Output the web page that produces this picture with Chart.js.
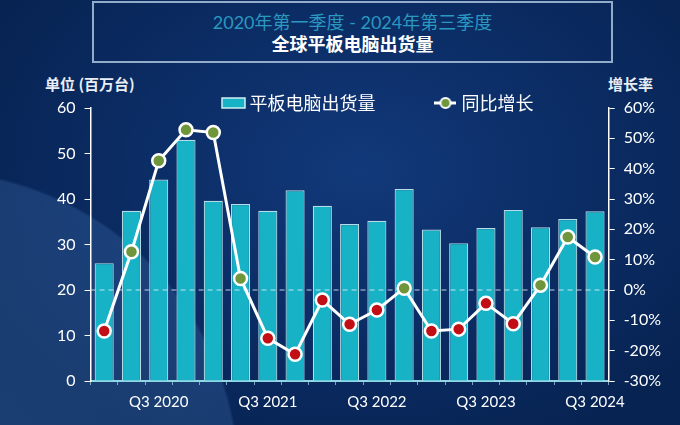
<!DOCTYPE html>
<html>
<head>
<meta charset="utf-8">
<script src="https://cdn.jsdelivr.net/npm/chart.js@4.4.1/dist/chart.umd.min.js"></script>
<style>
html, body { margin: 0; padding: 0; }
body {
    width: 680px; height: 425px; overflow: hidden; position: relative;
    font-family: Lato, "Noto Sans CJK SC", sans-serif;
    background:
        radial-gradient(circle 310px at -70px 480px, rgba(70,120,185,0.32) 0, rgba(70,120,185,0.28) 99%, rgba(0,0,0,0) 100%),
        radial-gradient(ellipse 420px 300px at 360px 170px, #12397a 0%, #0b2c64 55%, #072352 100%);
}
#box {
    position: absolute; left: 92px; top: 1px; width: 517px; height: 58px;
    border: 2px solid rgba(170,195,220,0.85);
    text-align: center;
}
#t1 { position: absolute; left: 0; right: 0; top: 8px; font-size: 18px; color: #2a98bf; line-height: 22px; }
#t2 { position: absolute; left: 0; right: 0; top: 30px; font-size: 18px; color: #fff; font-weight: bold; line-height: 22px; }
.unit { position: absolute; top: 73px; font-size: 15px; color: #e8eef6; font-weight: bold; font-family: "Noto Sans CJK SC", sans-serif; }
#wrap { position: absolute; left: 0; top: 0; width: 680px; height: 425px; }
</style>
</head>
<body>
<div id="box">
    <div id="t1">2020年第一季度 - 2024年第三季度</div>
    <div id="t2">全球平板电脑出货量</div>
</div>
<div class="unit" style="left:45px">单位 (百万台)</div>
<div class="unit" style="left:608px">增长率</div>
<div id="wrap"><canvas id="myChart" width="680" height="425"></canvas></div>

<script>
var quarters = [
    'Q1 2020', 'Q2 2020', 'Q3 2020', 'Q4 2020',
    'Q1 2021', 'Q2 2021', 'Q3 2021', 'Q4 2021',
    'Q1 2022', 'Q2 2022', 'Q3 2022', 'Q4 2022',
    'Q1 2023', 'Q2 2023', 'Q3 2023', 'Q4 2023',
    'Q1 2024', 'Q2 2024', 'Q3 2024'
];
// shipments, millions of units
var shipments = [25.9, 37.4, 44.3, 53.0, 39.6, 38.9, 37.4, 41.9, 38.5, 34.5,
                 35.2, 42.2, 33.3, 30.3, 33.6, 37.6, 33.8, 35.6, 37.3];
// year-on-year growth, %
var growth = [-13.5, 12.6, 42.6, 52.8, 51.9, 3.8, -15.9, -21.2, -3.3, -11.3,
              -6.6, 0.6, -13.5, -12.9, -4.4, -11.1, 1.6, 17.5, 10.9];
var leftTicks = [0, 60, 10];
var rightTicks = [-30, 60, 10];

var tickFont = { family: "Lato, 'Noto Sans CJK SC', sans-serif", size: 16 };

function barIcon() {
    var c = document.createElement('canvas');
    c.width = 25; c.height = 12;
    var g = c.getContext('2d');
    g.fillStyle = '#18b2c6';
    g.fillRect(1, 1, 23, 10);
    g.strokeStyle = '#cdeff4';
    g.lineWidth = 1.5;
    g.strokeRect(1, 1, 23, 10);
    return c;
}

function lineIcon() {
    var c = document.createElement('canvas');
    c.width = 22; c.height = 14;
    var g = c.getContext('2d');
    g.strokeStyle = '#fff';
    g.lineWidth = 3;
    g.beginPath(); g.moveTo(0, 7); g.lineTo(22, 7); g.stroke();
    g.beginPath(); g.arc(11, 7, 5, 0, Math.PI * 2);
    g.fillStyle = '#6f963a'; g.fill();
    g.lineWidth = 2; g.stroke();
    return c;
}

var icons = [barIcon(), lineIcon()];

// dashed 0% line, drawn over the bars but under the line series
var zeroLine = {
    id: 'zeroLine',
    afterDatasetDraw: function (chart, args) {
        if (args.index !== 0) return;
        var y = chart.scales.y1.getPixelForValue(0);
        var a = chart.chartArea;
        var ctx = chart.ctx;
        ctx.save();
        ctx.strokeStyle = 'rgba(220,240,250,0.85)';
        ctx.lineWidth = 1.2;
        ctx.setLineDash([5, 4]);
        ctx.beginPath();
        ctx.moveTo(a.left, y);
        ctx.lineTo(a.right, y);
        ctx.stroke();
        ctx.restore();
    }
};

// keep the legend short and move it a little to the right
var legendFix = {
    id: 'legendFix',
    beforeLayout: function (chart) {
        var lg = chart.legend;
        if (!lg || lg._patched) return;
        var fit = lg.fit;
        lg.fit = function () {
            fit.call(this);
            this.height = 77;
        };
        lg._patched = true;
    },
    afterLayout: function (chart) {
        var lg = chart.legend;
        lg.left += 21;
        lg.right += 21;
        // the text hangs a little below the box, so do not clip it
        lg.bottom += 12;
        lg.height += 12;
    }
};

function createChart() {
    var ctx = document.getElementById('myChart');

    var data = {
        labels: quarters,
        datasets: [{
            type: 'bar',
            label: '平板电脑出货量',
            data: shipments,
            yAxisID: 'y',
            backgroundColor: '#18b2c6',
            borderColor: 'rgba(200,238,244,0.9)',
            borderWidth: 1.2,
            barPercentage: 0.7,
            categoryPercentage: 1,
            order: 2
        }, {
            type: 'line',
            label: '同比增长',
            data: growth,
            yAxisID: 'y1',
            borderColor: '#fff',
            borderWidth: 3,
            pointRadius: 6.5,
            pointBorderWidth: 2.5,
            pointBorderColor: '#fff',
            pointBackgroundColor: growth.map(function (v) { return v >= 0 ? '#6f963a' : '#c20f16'; }),
            tension: 0,
            order: 1
        }]
    };

    var option = {
        responsive: false,
        animation: false,
        layout: { padding: { top: 31, left: 48, right: 10, bottom: 6 } },
        plugins: {
            title: { display: false },
            tooltip: { enabled: false },
            legend: {
                position: 'top',
                labels: {
                    color: '#fff',
                    font: { family: "'Noto Sans CJK SC', sans-serif", size: 18 },
                    usePointStyle: true,
                    pointStyleWidth: 14,
                    padding: 63,
                    sort: function (a, b) { return a.datasetIndex - b.datasetIndex; },
                    generateLabels: function (chart) {
                        var items = Chart.defaults.plugins.legend.labels.generateLabels(chart);
                        items.forEach(function (it) {
                            it.pointStyle = icons[it.datasetIndex];
                            it.fontColor = '#fff';
                        });
                        return items;
                    }
                }
            }
        },
        scales: {
            x: {
                offset: true,
                grid: {
                    offset: true,
                    drawOnChartArea: false,
                    drawTicks: true,
                    tickLength: 4,
                    color: 'rgba(170,220,235,0.7)'
                },
                border: { color: '#8fd6e4', width: 2 },
                ticks: {
                    color: '#fff',
                    font: { family: tickFont.family, size: 15 },
                    autoSkip: false,
                    maxRotation: 0,
                    padding: 8,
                    callback: function (v, i) {
                        return quarters[i].indexOf('Q3') === 0 ? quarters[i] : '';
                    }
                }
            },
            y: {
                position: 'left',
                min: leftTicks[0],
                max: leftTicks[1],
                grid: { drawOnChartArea: false, color: '#fff', tickLength: 6 },
                border: { color: '#fff', width: 1.5 },
                ticks: { stepSize: leftTicks[2], color: '#fff', font: tickFont, padding: 9 }
            },
            y1: {
                position: 'right',
                min: rightTicks[0],
                max: rightTicks[1],
                grid: { drawOnChartArea: false, color: '#fff', tickLength: 6 },
                border: { color: '#fff', width: 1.5 },
                ticks: {
                    stepSize: rightTicks[2], color: '#fff', font: tickFont, padding: 9,
                    callback: function (v) { return v + '%'; }
                }
            }
        }
    };

    var myChart = new Chart(ctx, {
        data: data,
        options: option,
        plugins: [zeroLine, legendFix]
    });
}

createChart();
</script>
</body>
</html>
